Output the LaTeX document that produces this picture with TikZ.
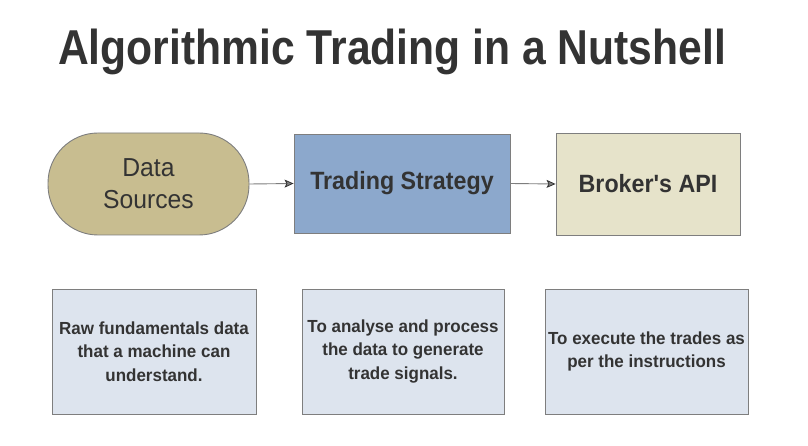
\documentclass[tikz,border=0pt]{standalone}
\usepackage{fontspec}
\usetikzlibrary{arrows.meta}
\newfontfamily\titlefont[FakeStretch=0.87]{Liberation Sans}
\newfontfamily\boxfont[FakeStretch=0.93]{Liberation Sans}
\newfontfamily\regfont[FakeStretch=0.95]{Liberation Sans}
\newfontfamily\descfont[FakeStretch=0.97]{Liberation Sans}
\definecolor{txt}{HTML}{333333}
\definecolor{khaki}{HTML}{C8BD90}
\definecolor{steel}{HTML}{8CA8CC}
\definecolor{cream}{HTML}{E6E3CA}
\definecolor{pale}{HTML}{DDE4EE}
\definecolor{edge}{HTML}{7E7E7E}
\tikzset{
  topbox/.style={draw=edge, line width=0.9pt, text=txt, align=center, inner sep=0pt},
  descbox/.style={draw=edge, line width=0.9pt, fill=pale, text=txt, align=center,
    minimum width=203pt, minimum height=125pt, inner sep=0pt,
    font=\descfont\fontsize{17.5}{23.5}\selectfont\bfseries},
  conn/.style={draw=edge, line width=0.9pt, -{Stealth[length=9pt,width=8pt,inset=2pt,color=txt,fill=gray,line width=0.8pt]}}
}
\begin{document}
\begin{tikzpicture}[x=1pt,y=-1pt]
\useasboundingbox (0,0) rectangle (808,446);
\fill[white] (0,0) rectangle (808,446);
\node[anchor=base, text=txt, font=\titlefont\fontsize{49}{55}\selectfont\bfseries] (title) at (392,65) {Algorithmic Trading in a Nutshell};
\node[topbox, fill=khaki, rounded corners=50pt, minimum width=201pt, minimum height=102pt,
  font=\regfont\fontsize{26}{32}\selectfont] (ds) at (148.5,184) {Data\\Sources};
\node[topbox, fill=steel, minimum width=216pt, minimum height=99pt,
  font=\boxfont\fontsize{25}{30}\selectfont\bfseries] (ts) at (402,183.5) {Trading Strategy};
\node[topbox, fill=cream, minimum width=184pt, minimum height=102pt,
  font=\boxfont\fontsize{25}{30}\selectfont\bfseries] (api) at (648,184) {Broker's API};
\draw[conn] (ds.east) -- (ts.west);
\draw[conn] (ts.east) -- (api.west);
\node[descbox, minimum width=204pt] (d1) at (154,351.5) {Raw fundamentals data\\that a machine can\\understand.};
\node[descbox, minimum width=202pt] (d2) at (403,351.5) {To analyse and process\\the data to generate\\trade signals.};
\node[descbox] (d3) at (646.5,351.5) {To execute the trades as\\per the instructions};
\end{tikzpicture}
\end{document}
